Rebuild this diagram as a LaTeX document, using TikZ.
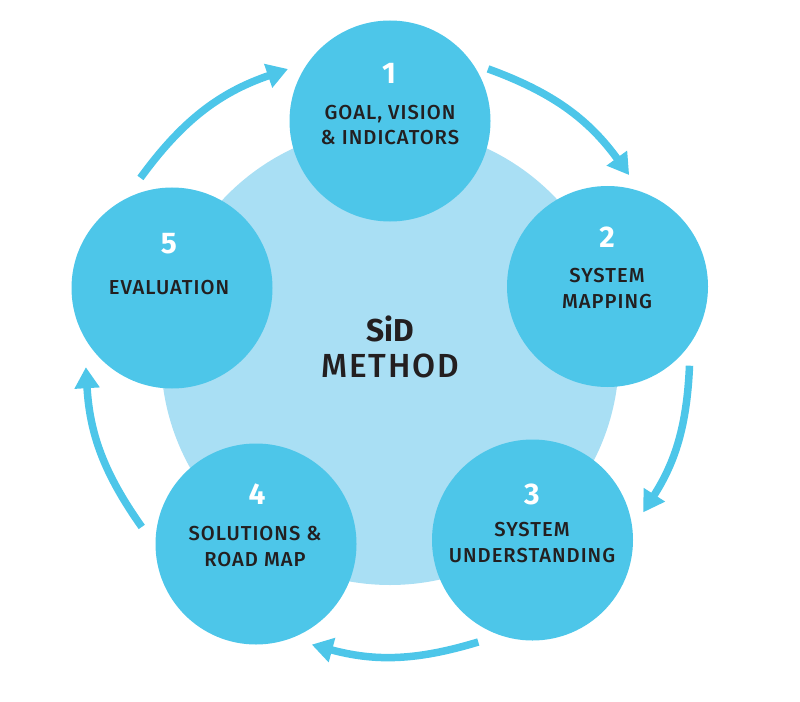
\documentclass[tikz,border=0pt]{standalone}
\usepackage{fontspec}
\setmainfont{Fira Sans}
\newfontfamily\labelfont[LetterSpace=5]{Fira Sans Medium}
\newfontfamily\titlefont[LetterSpace=5.5]{Fira Sans Medium}
\newfontfamily\numfont{Fira Sans}[BoldFont={Fira Sans Bold}]
\usetikzlibrary{arrows.meta}
\definecolor{stepblue}{HTML}{4DC6E9}
\definecolor{paleblue}{HTML}{A9DFF4}
\definecolor{inkblack}{HTML}{231F20}
\tikzset{
	stepdisc/.style={circle,fill=stepblue,minimum size=4.02cm,inner sep=0pt,outer sep=0pt},
	stepnum/.style={text=white,font=\numfont\bfseries\fontsize{17}{17}\selectfont,inner sep=0pt},
	steplabel/.style={text=inkblack,font=\labelfont\fontsize{11.5}{14.5}\selectfont,align=center,inner sep=0pt},
	flow/.style={stepblue,line width=0.15cm,-{Triangle[width=0.48cm,length=0.42cm]}},
}
\begin{document}
\begin{tikzpicture}
	\useasboundingbox (0,0) rectangle (16,14.02);
	
	%centre disc
	\node[circle,fill=paleblue,minimum size=9.16cm,inner sep=0pt] (core) at (7.8,6.9) {};
	
	%step discs
	\node[stepdisc] (goal) at (7.8,11.6) {};
	\node[stepdisc] (mapping) at (12.15,8.29) {};
	\node[stepdisc] (understanding) at (10.65,3.22) {};
	\node[stepdisc] (roadmap) at (5.12,3.14) {};
	\node[stepdisc] (evaluation) at (3.44,8.26) {};
	
	%numbers
	\node[stepnum] (num1) at (7.78,12.56) {1};
	\node[stepnum] (num2) at (12.14,9.28) {2};
	\node[stepnum] (num3) at (10.64,4.14) {3};
	\node[stepnum] (num4) at (5.14,4.14) {4};
	\node[stepnum] (num5) at (3.38,9.14) {5};
	
	%captions
	\node[steplabel] (cap1) at (7.8,11.52) {GOAL, VISION\\\& INDICATORS};
	\node[steplabel] (cap2) at (12.14,8.25) {SYSTEM\\MAPPING};
	\node[steplabel] (cap3) at (10.64,3.17) {SYSTEM\\UNDERSTANDING};
	\node[steplabel] (cap4) at (5.1,3.09) {SOLUTIONS \&\\ROAD MAP};
	\node[steplabel] (cap5) at (3.38,8.27) {EVALUATION};
	
	%middle title
	\node[text=inkblack,font=\numfont\bfseries\fontsize{18}{18}\selectfont,inner sep=0pt] (sid) at (7.8,7.44) {SiD};
	\node[text=inkblack,font=\titlefont\fontsize{19}{19}\selectfont,inner sep=0pt] (method) at (7.8,6.7) {METHOD};
	
	%arrow ends, just off the discs
	\path (goal) ++(28:2.22) coordinate (out1);
	\path (mapping) ++(79:2.27) coordinate (in2);
	\path (mapping) ++(-44:2.28) coordinate (out2);
	\path (understanding) ++(14:2.28) coordinate (in3);
	\path (understanding) ++(-118:2.31) coordinate (out3);
	\path (roadmap) ++(-61:2.30) coordinate (in4);
	\path (roadmap) ++(171.5:2.31) coordinate (out4);
	\path (evaluation) ++(-137.4:2.34) coordinate (in5);
	\path (evaluation) ++(106:2.29) coordinate (out5);
	\path (goal) ++(153:2.29) coordinate (in1);
	
	%arrows round the ring
	\draw[flow] (out1) to[bend left=17] (in2);
	\draw[flow] (out2) to[bend left=15] (in3);
	\draw[flow] (out3) to[bend left=16] (in4);
	\draw[flow] (out4) to[bend left=16] (in5);
	\draw[flow] (out5) to[bend left=17.5] (in1);
	
\end{tikzpicture}
\end{document}
